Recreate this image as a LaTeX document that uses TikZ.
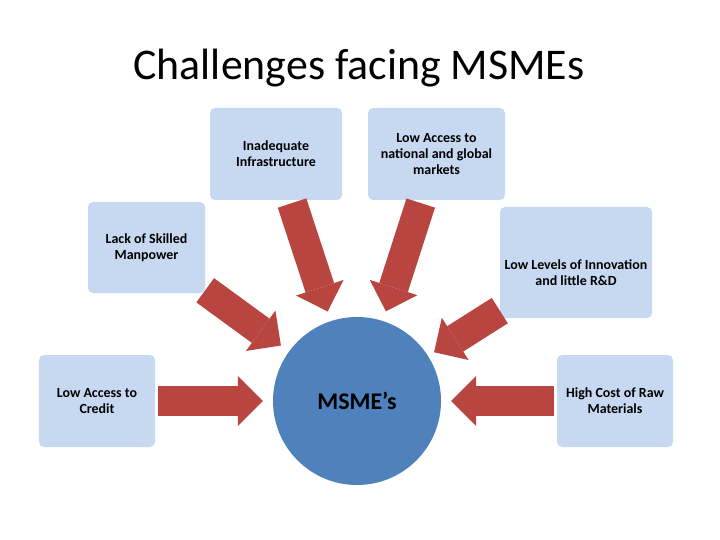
\documentclass[tikz,border=0pt]{standalone}
\usepackage{fontspec}
\setmainfont{Carlito}
\usetikzlibrary{arrows.meta}
\definecolor{boxblue}{RGB}{198,217,241}
\definecolor{hubblue}{RGB}{79,129,189}
\definecolor{arrowred}{RGB}{184,69,64}

\begin{document}
\begin{tikzpicture}[
  x=1bp, y=-1bp,
  every node/.style={text=black},
  box/.style   = {rectangle, fill=boxblue, rounded corners=5bp, inner sep=2bp, align=center, font=\fontsize{14}{16}\selectfont\bfseries},
  hub/.style   = {circle, fill=hubblue, minimum size=168bp, inner sep=0pt, font=\fontsize{24}{28}\selectfont\bfseries},
  heading/.style = {font=\fontsize{44}{52}\selectfont, anchor=base},
  push/.style  = {draw=arrowred, line width=30bp, -{Triangle[length=25bp, width=50bp, line width=0pt]}, shorten <=3bp, shorten >=10bp}
]
\fill[white] (0,0) rectangle (720,540);

%% TITLE
\node[heading] (title) at (359,80) {Challenges facing MSMEs};

%% CHALLENGES
\node[box, minimum width=132bp, minimum height=92bp]  (infra)   at (276,154)   {Inadequate\\Infrastructure};
\node[box, minimum width=137bp, minimum height=92bp]  (markets) at (436.5,154) {Low Access to\\national and global\\markets};
\node[box, minimum width=117bp, minimum height=91bp]  (skilled) at (146.5,247.5) {Lack of Skilled\\Manpower};
\node[box, minimum width=152bp, minimum height=111bp,
      label={[box, fill=none, yshift=-10bp]center:Low Levels of Innovation\\and little R\&D}] (innov) at (576,262.5) {};
\node[box, minimum width=116bp, minimum height=92bp]  (credit)  at (97,401)    {Low Access to\\Credit};
\node[box, minimum width=116bp, minimum height=92bp]  (rawmat)  at (615,401)   {High Cost of Raw\\Materials};

%% CENTRE
\node[hub] (msme) at (357,401) {MSME’s};

%% Arrows
\draw[push] (infra) -- (msme);
\draw[push] (markets) -- (msme);
\draw[push, shorten <=0bp] (skilled) -- (msme);
\draw[push, shorten <=0bp, shorten >=7bp] (innov) -- (msme);
\draw[push] (credit) -- (msme);
\draw[push] (rawmat) -- (msme);
\end{tikzpicture}
\end{document}
